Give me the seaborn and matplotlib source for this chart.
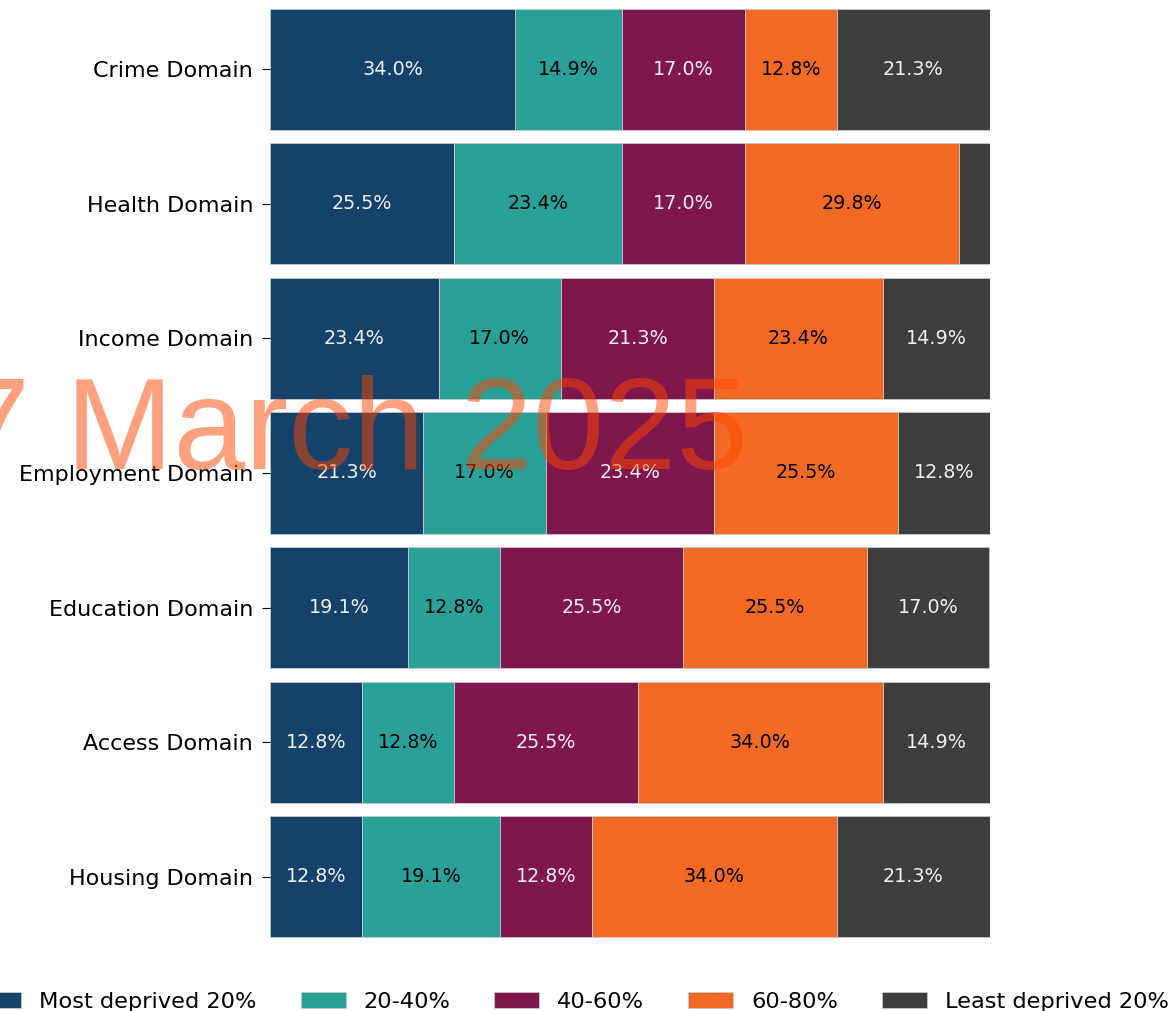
"""Stacked deprivation-quintile bars by domain."""

import matplotlib
matplotlib.use("Agg")
import matplotlib.pyplot as plt
import pandas as pd
import seaborn as sns

domains = ["Crime Domain", "Health Domain", "Income Domain", "Employment Domain",
           "Education Domain", "Access Domain", "Housing Domain"]
quintiles = ["Most deprived 20%", "20-40%", "40-60%", "60-80%", "Least deprived 20%"]
most_deprived = [34.0, 25.5, 23.4, 21.3, 19.1, 12.8, 12.8]
q20_40 = [14.9, 23.4, 17.0, 17.0, 12.8, 12.8, 19.1]
q40_60 = [17.0, 17.0, 21.3, 23.4, 25.5, 25.5, 12.8]
q60_80 = [12.8, 29.8, 23.4, 25.5, 25.5, 34.0, 34.0]
least_deprived = [21.3, 4.3, 14.9, 12.8, 17.0, 14.9, 21.3]

colors = ["#14426B", "#2AA198", "#7F164C", "#F46A25", "#3E3E3E"]
text_colors = ["#f0f0f0", "black", "#f0f0f0", "black", "#f0f0f0"]

df = pd.DataFrame(
    {"domain": domains, quintiles[0]: most_deprived, quintiles[1]: q20_40,
     quintiles[2]: q40_60, quintiles[3]: q60_80, quintiles[4]: least_deprived}
)

fig = plt.figure(figsize=(11.71, 10.11), dpi=100)
ax = fig.add_axes([0.2306, 0.0663, 0.6149, 0.9318])

left = pd.Series(0.0, index=df.index)
for q, c, tc in zip(quintiles, colors, text_colors):
    sns.barplot(data=df, x=q, y="domain", order=domains, color=c, width=0.9,
                left=left.values, edgecolor="#c8c8c8", linewidth=0.6,
                label=q, ax=ax, saturation=1)
    bars = ax.containers[-1]
    labels = [f"{v:.1f}%" if v >= 5 else "" for v in df[q]]
    ax.bar_label(bars, labels=labels, label_type="center", color=tc, fontsize=13.8)
    left = left + df[q]

if ax.get_legend() is not None:
    ax.get_legend().remove()

ax.set_xlim(0, 100)
ax.set_ylim(6.5, -0.5)
ax.set_xlabel("")
ax.set_ylabel("")
ax.xaxis.set_visible(False)
for s in ax.spines.values():
    s.set_visible(False)
ax.tick_params(axis="y", labelsize=16, length=5.6, pad=6.5)

handles, labels = ax.get_legend_handles_labels()
fig.legend(handles, labels, loc="center", bbox_to_anchor=(0.489, 1 - 1002 / 1011),
           ncol=5, frameon=False, fontsize=16.2, columnspacing=1.95)

fig.text(-42 / 1171, 1 - 469 / 1011, "7 March 2025", fontsize=93,
         family="Liberation Sans", color="#FF4500", alpha=0.5,
         ha="left", va="baseline")

fig.savefig("out.png", dpi=100)
